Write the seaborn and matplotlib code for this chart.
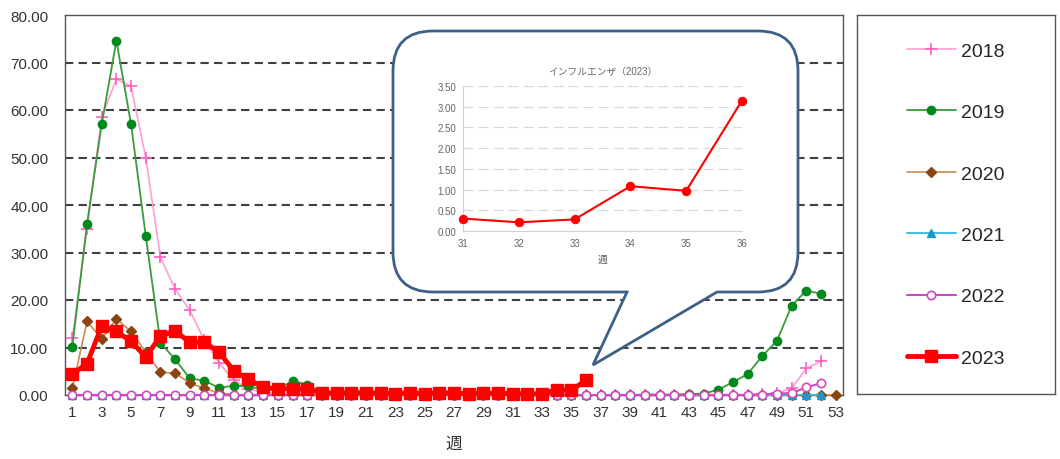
import numpy as np
import pandas as pd
import matplotlib
matplotlib.use("Agg")
import matplotlib.pyplot as plt
from matplotlib.path import Path
from matplotlib.patches import PathPatch
import seaborn as sns

# ── Data: weekly reports per sentinel site ──
y2018 = [12.0, 35.0, 58.5, 66.5, 65.0, 50.0, 29.0, 22.3, 17.8, 11.5, 6.7, 3.2, 1.2,
         0.6, 0.4, 0.3, 0.2, 0.1, 0.1, 0.1, 0.1, 0.0, 0.0, 0.0, 0.0, 0.0, 0.0, 0.0,
         0.0, 0.0, 0.0, 0.0, 0.0, 0.0, 0.0, 0.0, 0.0, 0.0, 0.0, 0.0, 0.0, 0.0, 0.0,
         0.0, 0.1, 0.1, 0.1, 0.2, 0.4, 1.4, 5.6, 7.1]
y2019 = [10.2, 36.0, 57.0, 74.6, 57.0, 33.5, 11.0, 7.5, 3.5, 3.0, 1.5, 2.0, 1.8,
         1.2, 1.0, 3.0, 2.2, 0.5, 0.3, 0.2, 0.1, 0.1, 0.0, 0.0, 0.0, 0.0, 0.0, 0.0,
         0.0, 0.0, 0.0, 0.0, 0.0, 0.0, 0.0, 0.0, 0.0, 0.0, 0.0, 0.1, 0.1, 0.1, 0.2,
         0.3, 1.1, 2.7, 4.4, 8.2, 11.4, 18.8, 22.0, 21.3]
y2020 = [1.4, 15.5, 11.8, 16.0, 13.4, 9.0, 4.8, 4.6, 2.5, 1.4, 0.4, 0.1, 0.0,
         0.0, 0.0, 0.0, 0.0, 0.0, 0.0, 0.0, 0.0, 0.0, 0.0, 0.0, 0.0, 0.0, 0.0, 0.0,
         0.0, 0.0, 0.0, 0.0, 0.0, 0.0, 0.0, 0.0, 0.0, 0.0, 0.0, 0.0, 0.0, 0.0, 0.0,
         0.0, 0.0, 0.0, 0.0, 0.0, 0.0, 0.0, 0.0, 0.0, 0.0]
y2021 = [0.0] * 52
y2022 = [0.0, 0.0, 0.0, 0.0, 0.0, 0.0, 0.0, 0.0, 0.0, 0.0, 0.0, 0.0, 0.0,
         0.0, 0.0, 0.0, 0.0, 0.0, 0.0, 0.0, 0.0, 0.0, 0.0, 0.0, 0.0, 0.0, 0.0, 0.0,
         0.0, 0.0, 0.0, 0.0, 0.0, 0.0, 0.0, 0.0, 0.0, 0.0, 0.0, 0.0, 0.0, 0.0, 0.0,
         0.0, 0.0, 0.0, 0.0, 0.1, 0.3, 0.4, 1.6, 2.5]
y2023 = [4.4, 6.6, 14.5, 13.4, 11.3, 8.0, 12.4, 13.5, 11.1, 11.1, 9.0, 5.1, 3.3,
         1.6, 1.3, 1.3, 1.2, 0.5, 0.4, 0.5, 0.5, 0.4, 0.3, 0.5, 0.3, 0.5, 0.4, 0.3,
         0.4, 0.4, 0.30, 0.21, 0.28, 1.08, 0.97, 3.15]

YEARS = ["2018", "2019", "2020", "2021", "2022", "2023"]
SERIES = [y2018, y2019, y2020, y2021, y2022, y2023]
INSET_WEEKS = [31, 32, 33, 34, 35, 36]

STYLES = {
    "2018": dict(color="#FF9ED2", lw=1.2, marker="+", ms=8, mfc="#FF5FC0", mec="#FF5FC0", mew=1.2),
    "2019": dict(color="#3C9A3C", lw=1.3, marker="o", ms=6, mfc="#008A1E", mec="#008A1E", mew=1),
    "2020": dict(color="#CC8A55", lw=1.2, marker="D", ms=5, mfc="#8B4513", mec="#8B4513", mew=1),
    "2021": dict(color="#33B8DA", lw=1.3, marker="^", ms=6, mfc="#1E96C8", mec="#1E96C8", mew=1),
    "2022": dict(color="#D048C0", lw=1.5, marker="o", ms=6, mfc="white", mec="#D048C0", mew=1.2),
    "2023": dict(color="#FF0000", lw=3.5, marker="s", ms=9, mfc="#FF0000", mec="#FF0000", mew=1),
}

sns.set_style("white")
plt.rcParams["font.family"] = ["Liberation Sans", "Noto Sans CJK JP", "DejaVu Sans"]

W, H = 1060, 460
fig = plt.figure(figsize=(W / 100, H / 100), dpi=100)


def fx(px):
    return px / W


def fy(py):
    return 1 - py / H


# ── Main chart ──
ax = fig.add_axes([fx(65), fy(396), fx(843) - fx(65), fy(16) - fy(396)])
for year, vals in zip(YEARS, SERIES):
    st = STYLES[year]
    df = pd.DataFrame({"week": np.arange(1, len(vals) + 1), "value": vals})
    sns.lineplot(data=df, x="week", y="value", ax=ax, label=year,
                 color=st["color"], linewidth=st["lw"], marker=st["marker"],
                 markersize=st["ms"], markerfacecolor=st["mfc"],
                 markeredgecolor=st["mec"], markeredgewidth=st["mew"],
                 clip_on=False, zorder=3)

ax.set_xlim(0.5, 53.5)
ax.set_ylim(0, 80)
ax.set_xticks(range(1, 54, 2))
ax.set_yticks(range(0, 81, 10))
ax.set_yticklabels([f"{v:.2f}" for v in range(0, 81, 10)])
ax.tick_params(labelsize=11, length=0, colors="#333333")
ax.tick_params(axis="y", pad=12)
ax.tick_params(axis="x", pad=7)
for v in range(10, 80, 10):
    ax.axhline(v, color="#404040", lw=1.5, ls=(0, (4, 2.5)), zorder=1)
for sp in ax.spines.values():
    sp.set_color("#555555")
    sp.set_linewidth(1)
ax.set_xlabel("週", fontsize=12, labelpad=12, color="#333333")
ax.set_ylabel("")

handles, labels = ax.get_legend_handles_labels()
ax.get_legend().remove()

# ── Legend box ──
ax_leg = fig.add_axes([fx(857), fy(395), fx(1055) - fx(857), fy(16) - fy(395)])
ax_leg.set_xticks([])
ax_leg.set_yticks([])
for sp in ax_leg.spines.values():
    sp.set_color("#555555")
    sp.set_linewidth(1)
ax_leg.legend(handles, labels, loc="center", frameon=False, fontsize=14,
              labelspacing=2.25, handlelength=2.5, handletextpad=0.3)

# ── Callout bubble ──
ax_over = fig.add_axes([0, 0, 1, 1], zorder=5)
ax_over.set_xlim(0, W)
ax_over.set_ylim(H, 0)
ax_over.axis("off")
ax_over.patch.set_alpha(0)

L, T, R, B, r = 393, 32, 798, 293, 40
verts = [(627, B), (593, 366), (717, B),
         (R - r, B), (R, B), (R, B - r),
         (R, T + r), (R, T), (R - r, T),
         (L + r, T), (L, T), (L, T + r),
         (L, B - r), (L, B), (L + r, B),
         (627, B)]
codes = [Path.MOVETO, Path.LINETO, Path.LINETO,
         Path.LINETO, Path.CURVE3, Path.CURVE3,
         Path.LINETO, Path.CURVE3, Path.CURVE3,
         Path.LINETO, Path.CURVE3, Path.CURVE3,
         Path.LINETO, Path.CURVE3, Path.CURVE3,
         Path.CLOSEPOLY]
ax_over.add_patch(PathPatch(Path(verts, codes), facecolor="white",
                            edgecolor="#3E5F86", lw=2))

# ── Inset chart ──
ax_in = fig.add_axes([fx(463), fy(232), fx(742) - fx(463), fy(87) - fy(232)], zorder=6)
ins = pd.DataFrame({"week": INSET_WEEKS, "value": y2023[30:36]})
sns.lineplot(data=ins, x="week", y="value", ax=ax_in, color="#FF0000", linewidth=1.5,
             marker="o", markersize=6, markeredgecolor="#FF0000", clip_on=False, zorder=3)
ax_in.set_xlim(31, 36)
ax_in.set_ylim(0, 3.5)
ax_in.set_xticks(INSET_WEEKS)
ax_in.set_yticks(np.arange(0, 3.51, 0.5))
ax_in.set_yticklabels([f"{v:.2f}" for v in np.arange(0, 3.51, 0.5)])
ax_in.tick_params(labelsize=7, length=0, pad=5, colors="#666666")
for v in np.arange(0.5, 3.51, 0.5):
    ax_in.axhline(v, color="#D9D9D9", lw=0.9, ls=(0, (8, 4)), zorder=1)
for name, sp in ax_in.spines.items():
    sp.set_visible(name in ("bottom", "left"))
    sp.set_color("#D0D0D0")
ax_in.set_xlabel("週", fontsize=7, color="#555555", labelpad=4)
ax_in.set_ylabel("")
ax_in.set_title("インフルエンザ（2023）", fontsize=7, color="#666666", pad=9)
ax_in.patch.set_alpha(0)

fig.savefig("out.png", dpi=100)
